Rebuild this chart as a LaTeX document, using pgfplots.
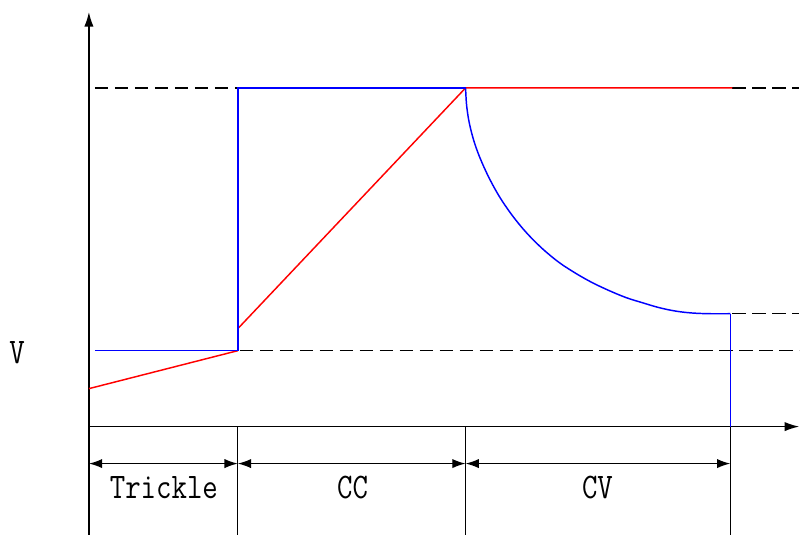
\documentclass[border=0pt]{standalone}
\usepackage{pgfplots}
\pgfplotsset{compat=1.18}
\usetikzlibrary{arrows.meta}
\newcommand{\lbl}[1]{\scalebox{1}[1.2]{\ttfamily\fontsize{22.5pt}{24pt}\selectfont #1}}
\begin{document}
\begin{tikzpicture}
\begin{axis}[
  width=600pt, height=401.25pt, scale only axis,
  xmin=0, xmax=800, ymin=0, ymax=535, y dir=reverse,
  hide axis, clip=false,
]
\addplot[draw=none] coordinates {(0,0) (800,535)};
% dashed reference lines
\addplot[black, line width=1.1pt, dash pattern=on 10pt off 5pt] coordinates {(95,88) (238,88)};
\addplot[black, line width=1.1pt, dash pattern=on 10pt off 5pt] coordinates {(733,88) (800,88)};
\addplot[black, line width=1.1pt, dash pattern=on 10pt off 5pt] coordinates {(240,351) (800,351)};
\addplot[black, line width=1.1pt, dash pattern=on 10pt off 5pt] coordinates {(733,314) (800,314)};
% phase boundary lines
\addplot[black, line width=1pt] coordinates {(238,427) (238,535)};
\addplot[black, line width=1pt] coordinates {(466,427) (466,535)};
\addplot[black, line width=1pt] coordinates {(731,427) (731,535)};
% axes
\addplot[black, line width=1.1pt, -{Latex[length=11pt,width=7pt]}] coordinates {(89,535) (89,12)};
\addplot[black, line width=1.1pt, -{Latex[length=11pt,width=7pt]}] coordinates {(89,427) (800,427)};
% red voltage
\addplot[red, line width=1.1pt] coordinates {(89,389) (238,351)};
\addplot[red, line width=1.1pt] coordinates {(238,329) (466,88) (733,88)};
% blue current
\addplot[blue, line width=1.1pt] coordinates {(95,351) (238,351) (238,88) (466,88)};
\addplot[blue, line width=1.1pt, smooth, tension=0.55] coordinates {
 (466,88) (467,105) (469.5,122) (474,140) (480,157) (489,177) (500,197) (513,216) (527,233)
 (543,249) (560,263) (577,274) (593,283) (610,291) (627,298) (643,303) (660,308)
 (677,311.5) (693,313.3) (710,314) (731,314)};
\addplot[blue, line width=1.1pt] coordinates {(731,314) (731,427)};
% phase arrows
\addplot[black, line width=1pt, {Latex[length=10pt,width=7pt]}-{Latex[length=10pt,width=7pt]}] coordinates {(89,464) (238,464)};
\addplot[black, line width=1pt, {Latex[length=10pt,width=7pt]}-{Latex[length=10pt,width=7pt]}] coordinates {(238,464) (466,464)};
\addplot[black, line width=1pt, {Latex[length=10pt,width=7pt]}-{Latex[length=10pt,width=7pt]}] coordinates {(466,464) (731,464)};
\node at (axis cs:164,488) {\lbl{Trickle}};
\node at (axis cs:353,488) {\lbl{CC}};
\node at (axis cs:598,488) {\lbl{CV}};
\node at (axis cs:17,353) {\lbl{V}};
\end{axis}
\end{tikzpicture}
\end{document}
